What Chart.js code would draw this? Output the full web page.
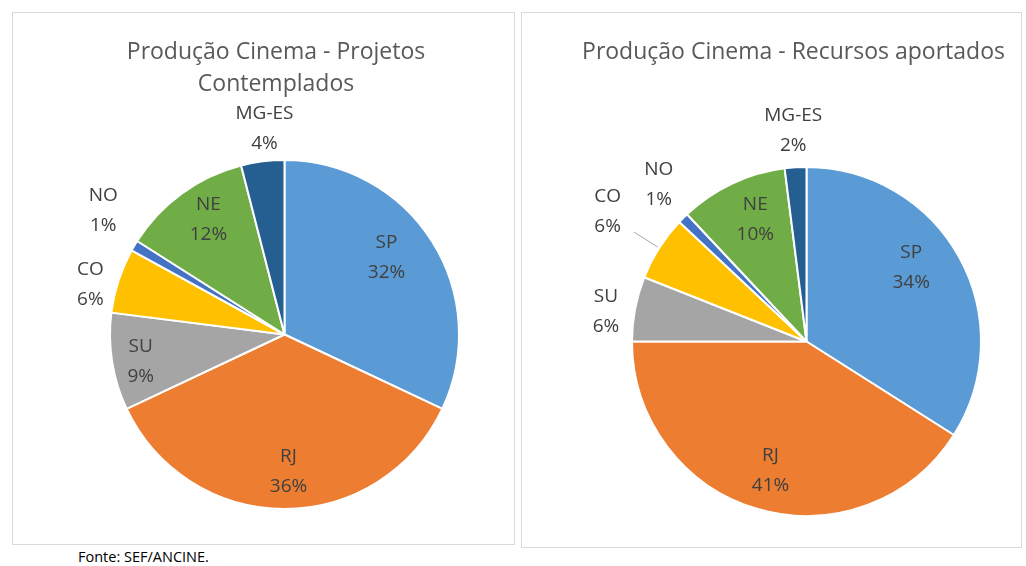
<!DOCTYPE html>
<html>
<head>
<meta charset="utf-8">
<script src="https://cdn.jsdelivr.net/npm/chart.js@4.4.1/dist/chart.umd.min.js"></script>
<style>
    body { margin: 0; background: #fff; width: 1026px; height: 566px; position: relative; overflow: hidden; font-family: 'Open Sans', sans-serif; }
    .panel { position: absolute; box-shadow: inset 0 0 0 1px #d9d9d9; }
    .title { position: absolute; left: 0; right: 0; text-align: center; color: #595959; font-size: 23px; line-height: 32px; white-space: nowrap; }
    .fonte { position: absolute; left: 78px; top: 547px; font-size: 14.5px; color: #000; }
</style>
</head>
<body>
<div class="panel" id="p1" style="left:12px; top:12px; width:503px; height:533px;">
    <div class="title" style="top:22px; padding-left:25px;">Produção Cinema - Projetos<br>Contemplados</div>
    <canvas id="projetos"></canvas>
</div>
<div class="panel" id="p2" style="left:521px; top:12px; width:501px; height:536px;">
    <div class="title" style="top:22px; padding-left:44px;">Produção Cinema - Recursos aportados</div>
    <canvas id="recursos"></canvas>
</div>
<div class="fonte">Fonte: SEF/ANCINE.</div>

<script>
const regioes = ['SP', 'RJ', 'SU', 'CO', 'NO', 'NE', 'MG-ES'];
const projetos = [32, 36, 9, 6, 1, 12, 4];
const recursos = [34, 41, 6, 6, 1, 10, 2];
const cores = ['#5B9BD5', '#ED7D31', '#A5A5A5', '#FFC000', '#4472C4', '#70AD47', '#255E91'];

// distancia do rotulo ao centro (fracao do raio) e pequeno ajuste em px
const rotulosProjetos = [0.74, 0.78, 0.84, 1.17, 1.26, 0.79, 1.19];
const ajusteProjetos = [[-7, -8], [4, 1], [1, 4], [0, 13], [8, -12], [5, -3], [6, 0]];
const rotulosRecursos = [0.75, 0.76, 1.17, 1.35, 1.23, 0.77, 1.21];
const ajusteRecursos = [[-10, -11], [1, 2], [0, 8], [0, -4], [4, -5], [6, 0], [0, 0]];

const rotulos = {
    id: 'rotulos',
    afterDatasetsDraw(chart, args, opts) {
        const ctx = chart.ctx;
        const arcs = chart.getDatasetMeta(0).data;
        const data = chart.data.datasets[0].data;
        ctx.save();
        ctx.font = '19px "Open Sans", sans-serif';
        ctx.fillStyle = '#404040';
        ctx.textAlign = 'center';
        ctx.textBaseline = 'middle';
        arcs.forEach((arc, i) => {
            const { x, y, startAngle, endAngle, outerRadius } = arc.getProps(['x', 'y', 'startAngle', 'endAngle', 'outerRadius'], true);
            const mid = (startAngle + endAngle) / 2;
            const r = outerRadius * opts.dist[i];
            const lx = x + Math.cos(mid) * r + opts.ajuste[i][0];
            const ly = y + Math.sin(mid) * r + opts.ajuste[i][1];
            if (opts.linha.includes(i)) {
                ctx.strokeStyle = '#a6a6a6';
                ctx.lineWidth = 1;
                ctx.beginPath();
                ctx.moveTo(x + Math.cos(mid) * outerRadius * 1.01, y + Math.sin(mid) * outerRadius * 1.01);
                ctx.lineTo(x + Math.cos(mid) * outerRadius * 1.17, y + Math.sin(mid) * outerRadius * 1.17);
                ctx.stroke();
            }
            ctx.fillText(chart.data.labels[i], lx, ly - 15);
            ctx.fillText(data[i] + '%', lx, ly + 15);
        });
        ctx.restore();
    }
};

function pizza(id, valores, dist, ajuste, padding, linha) {
    return new Chart(document.getElementById(id), {
        type: 'pie',
        data: {
            labels: regioes,
            datasets: [{
                data: valores,
                backgroundColor: cores,
                borderColor: '#ffffff',
                borderWidth: 2,
            }]
        },
        options: {
            responsive: true,
            maintainAspectRatio: false,
            animation: false,
            layout: { padding: padding },
            plugins: {
                legend: { display: false },
                tooltip: { enabled: false },
                rotulos: { dist: dist, ajuste: ajuste, linha: linha },
            },
        },
        plugins: [rotulos]
    });
}

pizza('projetos', projetos, rotulosProjetos, ajusteProjetos, { left: 97, right: 55, top: 147, bottom: 35 }, []);
pizza('recursos', recursos, rotulosRecursos, ajusteRecursos, { left: 110, right: 40, top: 154, bottom: 31 }, [3]);
</script>
</body>
</html>
